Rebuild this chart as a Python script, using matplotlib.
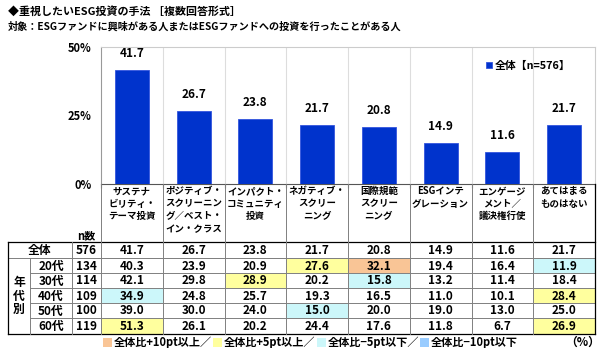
import matplotlib
matplotlib.use("Agg")
import matplotlib.pyplot as plt
from matplotlib import transforms
from matplotlib.patches import Rectangle

plt.rcParams['font.family'] = ['Noto Sans CJK JP', 'DejaVu Sans']
plt.rcParams['font.weight'] = 'bold'

# ---------------- data ----------------
title = "◆重視したいESG投資の手法 ［複数回答形式］"
subtitle = "対象：ESGファンドに興味がある人またはESGファンドへの投資を行ったことがある人"
categories = [
    "サステナ\nビリティ・\nテーマ投資",
    "ポジティブ・\nスクリーニン\nグ／ベスト・\nイン・クラス",
    "インパクト・\nコミュニティ\n投資",
    "ネガティブ・\nスクリー\nニング",
    "国際規範\nスクリー\nニング",
    "ESGインテ\nグレーション",
    "エンゲージ\nメント／\n議決権行使",
    "あてはまる\nものはない",
]
total_label = "全体"
total_n = 576
total_values = [41.7, 26.7, 23.8, 21.7, 20.8, 14.9, 11.6, 21.7]
age_labels = ["20代", "30代", "40代", "50代", "60代"]
age_n = [134, 114, 109, 100, 119]
v20 = [40.3, 23.9, 20.9, 27.6, 32.1, 19.4, 16.4, 11.9]
v30 = [42.1, 29.8, 28.9, 20.2, 15.8, 13.2, 11.4, 18.4]
v40 = [34.9, 24.8, 25.7, 19.3, 16.5, 11.0, 10.1, 28.4]
v50 = [39.0, 30.0, 24.0, 15.0, 20.0, 19.0, 13.0, 25.0]
v60 = [51.3, 26.1, 20.2, 24.4, 17.6, 11.8, 6.7, 26.9]
age_values = [v20, v30, v40, v50, v60]
yticks = [0, 25, 50]
ytick_labels = ["0%", "25%", "50%"]
legend_items = ["全体比+10pt以上／", "全体比+5pt以上／", "全体比−5pt以下／", "全体比−10pt以下"]
legend_colors = ["#F9C596", "#FFFF9E", "#CCF7FA", "#99CCFF"]

BLUE = "#0033CC"

# ---------------- figure ----------------
W, H = 600, 348
fig = plt.figure(figsize=(W / 100, H / 100), dpi=100)

# bar axes (pixel geometry)
x0, x1, ytop, ybot = 101, 595, 47, 184
ax = fig.add_axes([x0 / W, 1 - ybot / H, (x1 - x0) / W, (ybot - ytop) / H])
n = len(categories)
xs = list(range(n))
ax.bar(xs, total_values, width=0.55, color=BLUE, edgecolor="#3355DD", linewidth=0.6, zorder=3,
       label=f"{total_label}【n={total_n}】")
for x, v in zip(xs, total_values):
    ax.annotate(f"{v:.1f}", (x, v), xytext=(0, 7), textcoords="offset points",
                ha="center", va="bottom", fontsize=8.5, fontweight="bold")
ax.set_xlim(-0.5, n - 0.5)
ax.set_ylim(0, 50)
ax.set_yticks(yticks)
ax.set_yticklabels(ytick_labels, fontsize=8, fontweight="bold")
ax.tick_params(axis="y", length=0, pad=7)
ax.set_xticks([i + 0.5 for i in range(-1, n)])
ax.set_xticklabels([])
ax.tick_params(axis="x", length=3, direction="out", color="#555555")
for i in range(n - 1):
    ax.axvline(i + 0.5, color="#DDDDDD", linewidth=0.8, zorder=1)
for s in ["top", "right"]:
    ax.spines[s].set_color("#CCCCCC")
ax.spines["left"].set_color("#999999")
ax.spines["bottom"].set_color("#555555")
leg = ax.legend(loc="upper right", bbox_to_anchor=(0.96, 0.93), frameon=False, fontsize=7.8,
                handlelength=0.55, handleheight=0.55, handletextpad=0.3, borderaxespad=0)
for t in leg.get_texts():
    t.set_fontweight("bold")

# overlay axes in pixel coordinates
ov = fig.add_axes([0, 0, 1, 1])
ov.set_xlim(0, W)
ov.set_ylim(H, 0)
ov.axis("off")
ov.patch.set_visible(False)
bt = transforms.blended_transform_factory(ax.transData, ov.transData)

fig.text(8 / W, 1 - 11 / H, title, fontsize=7.9, fontweight="bold", va="center", ha="left")
fig.text(8 / W, 1 - 27 / H, subtitle, fontsize=7.3, fontweight="bold", va="center", ha="left")

# header labels
for i, c in enumerate(categories):
    ov.text(i, 186, c, transform=bt, ha="center", va="top", fontsize=6.8, fontweight="bold",
            linespacing=1.32)
ov.text(86, 236, "n数", ha="center", va="center", fontsize=8, fontweight="bold")

# table geometry
row_tops = [242, 258, 273, 288, 303, 318]
row_bots = [258, 273, 288, 303, 318, 334]


def cell_color(v, base):
    d = round(v - base, 1)
    if d >= 10:
        return legend_colors[0]
    if d >= 5:
        return legend_colors[1]
    if d <= -10:
        return legend_colors[3]
    if d <= -5:
        return legend_colors[2]
    return None


all_rows = [total_values] + age_values
all_n = [total_n] + age_n
for r, vals in enumerate(all_rows):
    yt, yb = row_tops[r], row_bots[r]
    yc = (yt + yb) / 2
    for i, v in enumerate(vals):
        if r > 0:
            col = cell_color(v, total_values[i])
            if col:
                ov.add_patch(Rectangle((i - 0.5, yt), 1, yb - yt, transform=bt,
                                       facecolor=col, edgecolor="none", zorder=1))
        ov.text(i, yc + 0.5, f"{v:.1f}", transform=bt, ha="center", va="center",
                fontsize=8.5, fontweight="bold", zorder=3)
    ov.text(86.5, yc + 0.5, str(all_n[r]), ha="center", va="center", fontsize=8.5,
            fontweight="bold", zorder=3)
ov.text(40, (row_tops[0] + row_bots[0]) / 2 + 0.5, total_label, ha="center", va="center",
        fontsize=8.5, fontweight="bold")
for r, lab in enumerate(age_labels):
    yc = (row_tops[r + 1] + row_bots[r + 1]) / 2
    ov.text(51, yc + 0.5, lab, ha="center", va="center", fontsize=8.5, fontweight="bold")
ov.text(19, (258 + 334) / 2, "年\n代\n別", ha="center", va="center", fontsize=8.5,
        fontweight="bold", linespacing=1.05)

# table lines
LC = "#808080"
for y in row_tops[1:]:
    ov.plot([30, 595], [y, y], color=LC, lw=0.7, zorder=2)
ov.plot([8, 595], [258, 258], color=LC, lw=0.7, zorder=2)
ov.plot([8, 595], [242, 242], color="black", lw=0.9, zorder=2)
ov.plot([8, 595], [334, 334], color="black", lw=0.9, zorder=2)
ov.plot([8, 8], [242, 334], color="black", lw=0.9, zorder=2)
ov.plot([30, 30], [258, 334], color=LC, lw=0.7, zorder=2)
ov.plot([72, 72], [242, 334], color=LC, lw=0.7, zorder=2)
for i in range(n - 1):
    ov.plot([i + 0.5, i + 0.5], [184, 334], transform=bt, color=LC, lw=0.7, zorder=2)
ov.plot([-0.5, -0.5], [184, 334], transform=bt, color=LC, lw=0.7, zorder=2)
ov.plot([n - 0.5, n - 0.5], [184, 334], transform=bt, color="black", lw=0.9, zorder=2)

# bottom legend, laid out sequentially using measured text widths
fig.canvas.draw()
renderer = fig.canvas.get_renderer()
inv = ov.transData.inverted()
x = 103.0
for lab, col in zip(legend_items, legend_colors):
    ov.add_patch(Rectangle((x, 338), 9, 9, facecolor=col, edgecolor="none"))
    t = ov.text(x + 11, 342.5, lab, ha="left", va="center", fontsize=8, fontweight="bold")
    bb = t.get_window_extent(renderer=renderer)
    right = inv.transform((bb.x1, bb.y0))[0]
    x = right + 1
ov.text(583, 342.5, "（%）", ha="center", va="center", fontsize=8.5, fontweight="bold")

fig.savefig("out.png", dpi=100, facecolor="white")
